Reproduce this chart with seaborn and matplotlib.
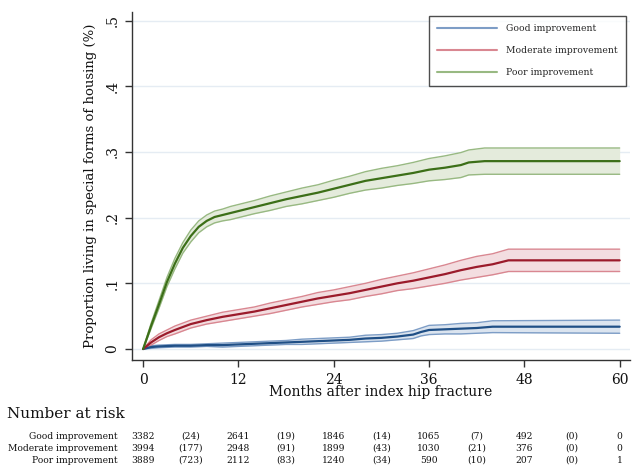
import numpy as np
import pandas as pd
import matplotlib
matplotlib.use('Agg')
import matplotlib.pyplot as plt
import matplotlib.transforms as mtrans
from matplotlib.lines import Line2D
import seaborn as sns

# ---- data ----
groups = ['Good improvement', 'Moderate improvement', 'Poor improvement']

good_months = [0, 1, 2, 4, 6, 8, 10, 12, 14, 16, 18, 20, 22, 24, 26, 28, 30, 32, 34, 35, 36, 38, 40, 42, 44, 60]
good_est = [0, 0.003, 0.004, 0.005, 0.005, 0.006, 0.006, 0.007, 0.008, 0.009, 0.010, 0.011, 0.012, 0.013,
            0.014, 0.016, 0.017, 0.019, 0.022, 0.026, 0.029, 0.030, 0.031, 0.032, 0.034, 0.034]
good_half = [0, 0.002, 0.002, 0.002, 0.002, 0.002, 0.003, 0.003, 0.003, 0.003, 0.003, 0.004, 0.004, 0.004,
             0.004, 0.005, 0.005, 0.005, 0.006, 0.006, 0.007, 0.007, 0.008, 0.008, 0.009, 0.010]

mod_months = [0, 1, 2, 3, 4, 6, 8, 10, 12, 14, 16, 18, 20, 22, 24, 26, 28, 30, 32, 34, 36, 38, 40, 42, 44, 46, 60]
mod_est = [0, 0.010, 0.018, 0.024, 0.029, 0.038, 0.044, 0.049, 0.053, 0.057, 0.062, 0.067, 0.072, 0.077,
           0.081, 0.085, 0.090, 0.095, 0.100, 0.104, 0.109, 0.114, 0.120, 0.125, 0.129, 0.135, 0.135]
mod_half = [0, 0.004, 0.005, 0.005, 0.006, 0.006, 0.006, 0.007, 0.007, 0.007, 0.008, 0.008, 0.008, 0.009,
            0.009, 0.010, 0.010, 0.011, 0.011, 0.012, 0.013, 0.014, 0.015, 0.016, 0.016, 0.017, 0.017]

poor_months = [0, 1, 2, 3, 4, 5, 6, 7, 8, 9, 10, 11, 12, 14, 16, 18, 20, 22, 24, 26, 28, 30, 32, 34, 36,
               38, 40, 41, 43, 60]
poor_est = [0, 0.035, 0.068, 0.102, 0.130, 0.154, 0.172, 0.186, 0.195, 0.201, 0.204, 0.207, 0.210, 0.216,
            0.222, 0.228, 0.233, 0.238, 0.244, 0.250, 0.256, 0.260, 0.264, 0.268, 0.273, 0.276, 0.280,
            0.284, 0.286, 0.286]
poor_half = [0, 0.004, 0.006, 0.007, 0.008, 0.008, 0.009, 0.009, 0.009, 0.009, 0.009, 0.010, 0.010, 0.010,
             0.011, 0.011, 0.012, 0.012, 0.013, 0.013, 0.014, 0.015, 0.015, 0.016, 0.017, 0.018, 0.019,
             0.019, 0.020, 0.020]

# number at risk table (months 0, 6, ..., 60; odd columns are censored counts)
risk_months = [0, 6, 12, 18, 24, 30, 36, 42, 48, 54, 60]
risk_good = ['3382', '(24)', '2641', '(19)', '1846', '(14)', '1065', '(7)', '492', '(0)', '0']
risk_mod = ['3994', '(177)', '2948', '(91)', '1899', '(43)', '1030', '(21)', '376', '(0)', '0']
risk_poor = ['3889', '(723)', '2112', '(83)', '1240', '(34)', '590', '(10)', '207', '(0)', '1']

x_ticks = [0, 12, 24, 36, 48, 60]
y_ticks = [0, 0.1, 0.2, 0.3, 0.4, 0.5]
y_ticklabels = ['0', '.1', '.2', '.3', '.4', '.5']

# colours: main line, CI line, CI fill
main_cols = ['#1f4f86', '#9b1b2b', '#3c6f18']
ci_cols = ['#7d9dc6', '#d98791', '#98b982']
fill_cols = ['#dbe4ef', '#f3dde0', '#e4ebdc']

sns.set_theme(style='white')
plt.rcParams['font.family'] = ['DejaVu Serif']

fig = plt.figure(figsize=(6.4, 4.73), dpi=100)
ax = fig.add_axes([132 / 640, 1 - 360 / 473, 498 / 640, 348 / 473])

series = [(good_months, good_est, good_half),
          (mod_months, mod_est, mod_half),
          (poor_months, poor_est, poor_half)]

for i, (m, est, half) in enumerate(series):
    d = pd.DataFrame({'month': m, 'est': est, 'half': half})
    d['lo'] = d['est'] - d['half']
    d['hi'] = d['est'] + d['half']
    ax.fill_between(d['month'], d['lo'], d['hi'], color=fill_cols[i], lw=0, zorder=2)
    sns.lineplot(data=d, x='month', y='lo', ax=ax, color=ci_cols[i], lw=1.0, zorder=3)
    sns.lineplot(data=d, x='month', y='hi', ax=ax, color=ci_cols[i], lw=1.0, zorder=3)
    sns.lineplot(data=d, x='month', y='est', ax=ax, color=main_cols[i], lw=1.6, zorder=4)

ax.set_xlim(-1.4, 61.3)
ax.set_ylim(-0.0167, 0.513)
ax.set_xticks(x_ticks)
ax.set_xticklabels([str(t) for t in x_ticks], fontsize=10)
ax.set_yticks(y_ticks)
ax.set_yticklabels(y_ticklabels, fontsize=10, rotation=90, va='center')
ax.yaxis.grid(True, color='#e5ecf3', lw=1.0, zorder=0)
ax.xaxis.grid(False)
ax.set_axisbelow(True)

for s in ['top', 'right']:
    ax.spines[s].set_visible(False)
for s in ['left', 'bottom']:
    ax.spines[s].set_color('#333333')
    ax.spines[s].set_linewidth(1.0)
ax.tick_params(axis='both', direction='out', length=5, width=1, color='#333333',
               labelcolor='#111111', pad=4, left=True, bottom=True)

ax.set_xlabel('Months after index hip fracture', fontsize=10, labelpad=-1, color='#111111')
ax.set_ylabel('Proportion living in special forms of housing (%)', fontsize=9.5,
              labelpad=6, color='#111111')

handles = [Line2D([0], [0], color=ci_cols[i], lw=1.5) for i in range(3)]
leg = ax.legend(handles, groups, loc='upper right', bbox_to_anchor=(0.992, 0.989),
                fontsize=6.7, frameon=True, fancybox=False, handlelength=6.4,
                labelspacing=1.4, borderpad=0.9, handletextpad=1.0, borderaxespad=0)
leg.get_frame().set_edgecolor('#222222')
leg.get_frame().set_linewidth(1.0)

# number at risk table
trans = mtrans.blended_transform_factory(ax.transData, fig.transFigure)
fig.text(7 / 640, 1 - 414 / 473, 'Number at risk', fontsize=11, ha='left', va='center',
         color='#111111')
for row, (label, vals) in enumerate(zip(groups, [risk_good, risk_mod, risk_poor])):
    yy = 1 - (436 + 12 * row) / 473
    fig.text(118 / 640, yy, label, fontsize=6.6, ha='right', va='center', color='#111111')
    for m, v in zip(risk_months, vals):
        ax.text(m, yy, v, transform=trans, fontsize=6.6, ha='center', va='center',
                color='#111111', clip_on=False)

plt.savefig('out.png', dpi=100)
